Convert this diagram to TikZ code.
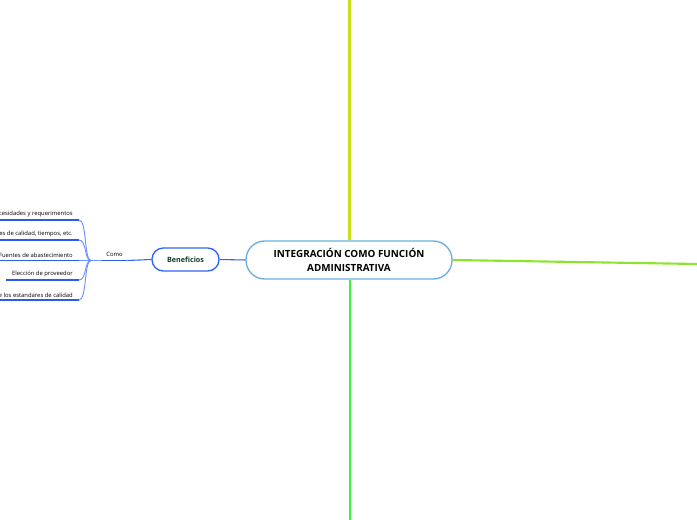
\documentclass[tikz,border=0pt]{standalone}
\usepackage{fontspec}
\setmainfont{Open Sans}
\usetikzlibrary{positioning}

\definecolor{topline}{HTML}{C8E21A}
\definecolor{rightline}{HTML}{8CE52C}
\definecolor{bottomline}{HTML}{3FEF3F}
\definecolor{mainborder}{HTML}{6AAEE0}
\definecolor{benblue}{HTML}{2F63F2}
\definecolor{leafblue}{HTML}{2A5AF0}
\definecolor{curveblue}{HTML}{6E92F7}
\definecolor{bentext}{HTML}{0D3B2A}

\tikzset{
	mainnode/.style={shape=rectangle, draw=mainborder, line width=1pt, rounded corners=14pt, minimum width=154.5pt, minimum height=28.5pt, align=center, font=\fontsize{7.4}{10}\selectfont\bfseries},
	bennode/.style={shape=rectangle, draw=benblue, line width=1pt, rounded corners=8.5pt, minimum width=50.25pt, minimum height=17.25pt, text=bentext, font=\fontsize{5.4}{6}\selectfont\bfseries},
	leaf/.style={anchor=south east, inner xsep=4.5pt, inner ysep=2pt, font=\fontsize{4.4}{5}\selectfont},
	leafline/.style={draw=leafblue, line width=1.4pt},
	branch/.style={draw=curveblue, line width=0.7pt},
	stem/.style={draw=benblue, line width=0.8pt}
}

\begin{document}
\begin{tikzpicture}[x=0.75pt, y=-0.75pt]
	\clip (0,0) rectangle (697,520);
	\useasboundingbox (0,0) rectangle (697,520);
	\node[mainnode] (main) at (349,260) {INTEGRACIÓN COMO FUNCIÓN\\ADMINISTRATIVA};
	\coordinate (up) at (349.5,0);
	\coordinate (rt) at (697,264);
	\coordinate (dn) at (350,520);
	\draw[topline, line width=1.6pt] (main.north) ++(0.5,0) -- (up);
	\draw[rightline, line width=1.6pt] (main.east) -- (rt);
	\draw[bottomline, line width=1.6pt] (main.south) ++(1,0) -- (dn);
	\node[bennode] (ben) at (185.5,259.5) {Beneficios};
	\draw[stem] (ben.east) -- (main.west);
	\node[anchor=south, minimum width=18.75pt, inner ysep=2.5pt, font=\fontsize{4.4}{5}\selectfont] (como) at (114.5,260.5) {Como};
	\draw[leafline] (como.south west) -- (como.south east);
	\draw[stem] (como.south east) -- (ben.west);
	\coordinate (join) at (91,260.5);
	\draw[branch] (join) -- (como.south west);
	% hojas
	\node[leaf] (l1) at (79,220) {Necesidades y requerimentos};
	\node[leaf] (l2) at (79,240) {Especificaciones de calidad, tiempos, etc.};
	\node[leaf] (l3) at (79,260.5) {Fuentes de abastecimiento};
	\node[leaf] (l4) at (79,280) {Elección de proveedor};
	\node[leaf] (l5) at (79,300) {Control de los estandares de calidad};
	\foreach \l/\y in {l1/220,l2/240,l3/260.5,l4/280,l5/300} {
		\draw[leafline] (\l.south west) -- (\l.south east);
		\draw[branch] (join) .. controls (84,260.5) and (87,\y) .. (\l.south east);
	}
\end{tikzpicture}
\end{document}
